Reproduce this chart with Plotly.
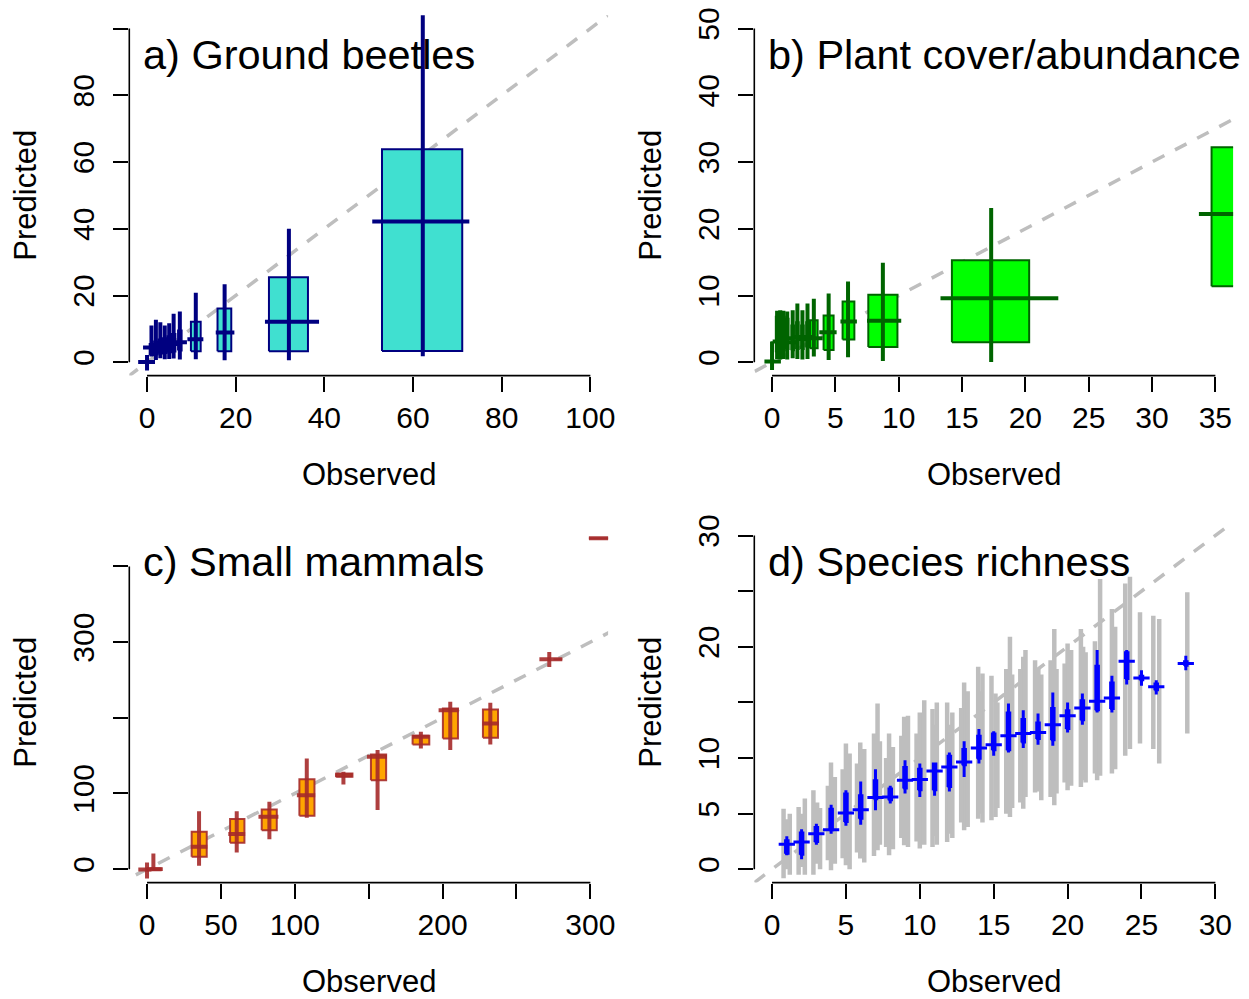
import plotly.graph_objects as go

FONT = "Liberation Sans, Arial, Helvetica, sans-serif"

# ---------------- Panel a) Ground beetles ----------------
a_obs_mid = [0, 1, 2, 3, 4, 5, 6, 7.4, 11.0, 17.5, 32.0, 62.2]
a_obs_q1 = [0, 0.6, 1.6, 2.6, 3.6, 4.6, 5.6, 7.0, 9.9, 15.9, 27.5, 53.0]
a_obs_q3 = [0, 1.4, 2.4, 3.4, 4.4, 5.4, 6.4, 7.8, 12.1, 19.0, 36.3, 71.1]
a_obs_min = [-2.0, -0.9, 0.5, 1.5, 2.5, 3.5, 4.5, 6.0, 9.1, 15.5, 26.6, 50.8]
a_obs_max = [1.8, 2.9, 3.5, 4.5, 5.5, 6.5, 7.5, 9.0, 12.7, 19.7, 38.8, 72.7]
a_pred_med = [0.1, 4.4, 4.2, 4.8, 5.0, 5.2, 5.5, 6.0, 6.9, 8.9, 12.1, 42.2]
a_pred_q1 = [0.0, 2.2, 2.4, 2.6, 2.8, 3.0, 3.2, 3.5, 3.3, 3.3, 3.3, 3.4]
a_pred_q3 = [0.5, 5.5, 6.2, 6.8, 7.2, 7.8, 8.5, 9.5, 12.1, 16.1, 25.5, 63.8]
a_pred_min = [-2.5, 1.7, 0.7, 1.2, 0.9, 1.0, 1.1, 0.8, 0.9, 0.6, 0.6, 1.8]
a_pred_max = [2.2, 11.0, 12.7, 12.0, 11.0, 11.7, 14.5, 15.2, 20.8, 23.4, 40.0, 112.0]
a_xticks = [0, 20, 40, 60, 80, 100]
a_xlabels = ["0", "20", "40", "60", "80", "100"]
a_yticks = [0, 20, 40, 60, 80, 100]
a_ylabels = ["0", "20", "40", "60", "80", ""]

# ---------------- Panel b) Plant cover/abundance ----------------
b_obs_mid = [0, 0.4, 0.65, 0.9, 1.2, 1.63, 2.0, 2.4, 2.8, 3.3, 4.47, 6.0, 8.75, 17.3, 37.5]
b_obs_q1 = [0, 0.3, 0.55, 0.8, 1.1, 1.53, 1.9, 2.3, 2.7, 3.0, 4.07, 5.57, 7.6, 14.2, 34.7]
b_obs_q3 = [0, 0.5, 0.75, 1.0, 1.3, 1.73, 2.1, 2.5, 2.9, 3.6, 4.86, 6.5, 9.9, 20.3, 40.5]
b_obs_min = [-0.6, 0.05, 0.3, 0.5, 0.8, 1.2, 1.6, 2.0, 2.4, 2.7, 3.73, 5.4, 7.5, 13.3, 33.7]
b_obs_max = [0.7, 1.24, 1.0, 1.3, 1.6, 2.0, 2.4, 2.8, 3.2, 4.0, 5.1, 6.7, 10.2, 22.6, 42.0]
b_pred_med = [0.1, 3.1, 3.6, 3.3, 3.6, 3.0, 3.8, 3.5, 3.8, 3.6, 4.5, 6.1, 6.2, 9.6, 22.2]
b_pred_q1 = [0.0, 1.5, 1.5, 1.8, 2.0, 1.8, 2.0, 2.0, 2.2, 2.1, 1.85, 3.4, 2.3, 3.0, 11.4]
b_pred_q3 = [3.1, 6.8, 7.0, 6.8, 6.5, 5.5, 6.0, 5.5, 6.0, 6.3, 7.0, 9.1, 10.1, 15.3, 32.2]
b_pred_min = [-1.15, 0.5, 0.4, 0.5, 0.4, 0.6, 0.5, 0.4, 0.5, 0.85, 0.35, 0.75, 0.2, 0.05, 5.0]
b_pred_max = [3.1, 7.7, 7.8, 7.7, 7.6, 7.8, 8.8, 7.8, 8.8, 9.5, 10.3, 12.1, 14.9, 23.1, 40.0]
b_xticks = [0, 5, 10, 15, 20, 25, 30, 35]
b_xlabels = ["0", "5", "10", "15", "20", "25", "30", "35"]
b_yticks = [0, 10, 20, 30, 40, 50]
b_ylabels = ["0", "10", "20", "30", "40", "50"]

# ---------------- Panel c) Small mammals ----------------
c_obs_mid = [0, 4.3, 35.2, 60.7, 82.8, 108.1, 132.9, 156.0, 185.3, 205.2, 232.3, 272.2, 318]
c_obs_q1 = [0, 3, 30.2, 56.2, 77.6, 103.1, 128, 151.5, 179.7, 200.2, 227.3, 275, 299]
c_obs_q3 = [0, 10, 40.4, 65.9, 87.8, 113.3, 139, 161.8, 191, 210.4, 237.5, 281, 335]
c_obs_min = [-5.9, 0, 29.8, 55, 75.4, 101.4, 127.3, 148.8, 179.7, 197.3, 227, 265.5, 299]
c_obs_max = [3, 9.9, 40.8, 66.4, 88.9, 113.8, 139, 162.3, 191, 210.8, 238, 281, 335]
c_pred_med = [-0.4, 0, 29.5, 46.3, 69.1, 97.8, 124.2, 148.4, 174.8, 210.1, 192.5, 277.5, 437.4]
c_pred_q1 = [-0.4, -1, 16.3, 34.8, 51.5, 70.4, 122, 117.6, 164.8, 172.7, 173.5, 277.5, 437.4]
c_pred_q3 = [-0.4, 1, 49.3, 66.1, 78.9, 118.9, 126.5, 151.6, 176.2, 212.4, 211, 277.5, 437.4]
c_pred_min = [-12.3, -1.3, 4.4, 22, 39.6, 67.8, 111.9, 78, 159.5, 157.3, 164.8, 267, 437.4]
c_pred_max = [8.9, 20.7, 76.6, 76.6, 89, 146.3, 128.6, 157.3, 181.5, 221.1, 219.8, 287, 437.4]
c_xticks = [0, 50, 100, 150, 200, 250, 300]
c_xlabels = ["0", "50", "100", "", "200", "", "300"]
c_yticks = [0, 100, 200, 300, 400]
c_ylabels = ["0", "100", "", "300", ""]

# ---------------- Panel d) Species richness ----------------
d_obs = [1, 2, 3, 4, 5, 6, 7, 8, 9, 10, 11, 12, 13, 14, 15, 16, 17, 18, 19, 20, 21, 22, 23, 24, 25, 26, 28]
d_pred_med = [2.25, 2.45, 3.2, 3.56, 5.05, 5.35, 6.44, 6.5, 8.0, 8.06, 8.83, 9.19, 9.64, 10.9, 11.2, 12.0, 12.2,
              12.3, 13.0, 13.8, 14.5, 15.1, 15.4, 18.7, 17.2, 16.4, 18.5]
d_pred_q1 = [1.4, 1.3, 2.45, 3.5, 4.25, 4.55, 6.3, 6.2, 7.25, 7.1, 7.1, 7.4, 9.34, 9.94, 10.7, 10.7, 11.4, 11.7,
             11.6, 12.6, 13.4, 14.3, 14.4, 17.1, 17.0, 16.1, 18.3]
d_pred_q3 = [2.6, 3.3, 3.8, 5.45, 6.8, 6.65, 8.0, 7.25, 9.2, 9.04, 9.5, 10.2, 10.8, 12.0, 12.2, 14.1, 13.5, 13.2,
             14.5, 14.3, 15.2, 18.3, 16.8, 19.5, 17.4, 16.7, 18.7]
d_pred_min = [1.26, 0.9, 2.2, 3.2, 3.9, 4.0, 5.3, 5.9, 6.8, 6.5, 6.6, 7.0, 8.3, 9.5, 10.2, 10.5, 10.9, 11.2, 11.1,
              12.3, 13.0, 14.1, 14.1, 16.6, 16.5, 15.7, 17.9]
d_pred_max = [2.96, 3.6, 4.1, 5.8, 7.1, 7.9, 9.0, 7.5, 9.8, 9.5, 9.5, 10.5, 11.5, 12.6, 12.4, 14.9, 14.3, 14.0, 15.9,
              15.0, 15.8, 19.7, 17.4, 19.7, 17.9, 17.0, 19.2]
# individual-site prediction ranges (grey)
d_site_x = [0.78, 1.2, 1.0, 1.8, 2.22, 2.0, 2.8, 3.25, 3.05, 3.99, 4.25, 3.78, 5.0, 5.25, 4.78, 5.97, 6.24, 5.75,
            7.14, 6.9, 7.3, 7.92, 8.18, 7.72, 8.94, 9.2, 8.75, 10.0, 9.78, 10.3, 10.86, 11.15, 11.0, 11.85, 12.2, 12.02,
            13.0, 13.24, 12.8, 13.95, 14.24, 14.08, 14.85, 15.12, 15.25, 16.1, 15.85, 16.25, 17.0, 17.15, 16.8,
            17.8, 18.22, 18.02, 19.1, 18.85, 19.25, 20.0, 20.24, 19.8, 20.9, 21.22, 21.05, 22.2, 22.0, 21.85,
            23.0, 23.22, 23.9, 24.22, 24.9, 25.8, 26.2, 28.1]
d_site_lo = [-0.8, -0.5, 0.0, -0.5, -0.5, 0.2, -0.5, 0.0, 0.5, -0.1, 0.5, 0.8, 0.36, 0.0, 1.0, 0.96, 0.6, 1.5,
             1.7, 1.2, 2.2, 1.26, 1.8, 2.0, 2.16, 2.0, 2.8, 1.86, 2.5, 2.2, 2.0, 2.2, 3.0, 2.45, 2.8, 3.2,
             3.5, 3.8, 4.2, 4.55, 4.2, 5.0, 4.4, 4.7, 5.5, 4.7, 5.0, 5.5, 5.45, 6.5, 6.0,
             6.9, 6.2, 7.0, 5.75, 6.5, 6.8, 7.1, 7.5, 7.8, 7.4, 7.8, 8.0, 8.4, 8.0, 8.6,
             8.6, 9.0, 10.2, 10.8, 11.3, 10.8, 9.5, 12.2]
d_site_hi = [5.45, 5.0, 4.5, 5.6, 6.35, 5.0, 7.1, 5.5, 6.0, 9.6, 8.3, 7.5, 11.3, 10.4, 9.0, 11.4, 10.8, 9.5,
             14.9, 12.2, 11.5, 12.2, 11.0, 10.0, 13.7, 13.8, 12.0, 14.1, 12.2, 15.2, 14.4, 15.0, 13.0, 15.0, 14.1, 13.0,
             16.8, 16.0, 14.5, 18.2, 17.6, 16.0, 17.4, 15.8, 15.0, 20.9, 18.0, 17.5, 19.1, 19.7, 18.0,
             18.8, 17.5, 18.0, 21.6, 18.8, 18.0, 20.3, 19.7, 18.5, 21.6, 19.5, 20.0, 26.1, 19.5, 20.5,
             23.4, 21.8, 25.7, 26.3, 23.1, 22.8, 22.5, 24.9]
d_xticks = [0, 5, 10, 15, 20, 25, 30]
d_xlabels = ["0", "5", "10", "15", "20", "25", "30"]
d_yticks = [0, 5, 10, 15, 20, 25, 30]
d_ylabels = ["0", "5", "10", "", "20", "", "30"]

titles = ["a) Ground beetles", "b) Plant cover/abundance", "c) Small mammals", "d) Species richness"]

# ---------------- layout geometry (pixels) ----------------
W, H = 1249, 999
col_px = [(129.3, 608.1), (754.3, 1233.1)]
row_px = [(15.2, 375.6), (522.2, 882.6)]


def xdom(c):
    return [col_px[c][0] / W, col_px[c][1] / W]


def ydom(r):
    return [1 - row_px[r][1] / H, 1 - row_px[r][0] / H]


fig = go.Figure()

panels = [
    dict(ax="", r=0, c=0, xr=[-4, 104], yr=[-4, 104], xt=a_xticks, xl=a_xlabels, yt=a_yticks, yl=a_ylabels),
    dict(ax="2", r=0, c=1, xr=[-1.4, 36.4], yr=[-2, 52], xt=b_xticks, xl=b_xlabels, yt=b_yticks, yl=b_ylabels),
    dict(ax="3", r=1, c=0, xr=[-12, 312], yr=[-17.8, 458.5], xt=c_xticks, xl=c_xlabels, yt=c_yticks, yl=c_ylabels),
    dict(ax="4", r=1, c=1, xr=[-1.2, 31.2], yr=[-1.2, 31.2], xt=d_xticks, xl=d_xlabels, yt=d_yticks, yl=d_ylabels),
]


def seg_xy(x0s, x1s, y0s, y1s):
    xs, ys = [], []
    for a, b, c, d in zip(x0s, x1s, y0s, y1s):
        xs += [a, b, None]
        ys += [c, d, None]
    return xs, ys


def add_diag(p):
    lo = min(p["xr"][0], p["yr"][0]) - 50
    hi = max(p["xr"][1], p["yr"][1]) + 50
    fig.add_trace(go.Scatter(x=[lo, hi], y=[lo, hi], mode="lines",
                             line=dict(color="#BEBEBE", width=3.5, dash="13px,12px"),
                             xaxis="x" + p["ax"], yaxis="y" + p["ax"], hoverinfo="skip", showlegend=False))


def add_groups(p, omid, oq1, oq3, omin, omax, pmed, pq1, pq3, pmin, pmax, fill, lc, lw=4, bw=2):
    xa, ya = "x" + p["ax"], "y" + p["ax"]
    bx, by = [], []
    for a, b, c, d in zip(oq1, oq3, pq1, pq3):
        bx += [a, b, b, a, a, None]
        by += [c, c, d, d, c, None]
    fig.add_trace(go.Scatter(x=bx, y=by, mode="lines", fill="toself", fillcolor=fill,
                             line=dict(color=lc, width=bw), xaxis=xa, yaxis=ya,
                             hoverinfo="skip", showlegend=False))
    vx, vy = seg_xy(omid, omid, pmin, pmax)
    fig.add_trace(go.Scatter(x=vx, y=vy, mode="lines", line=dict(color=lc, width=lw),
                             xaxis=xa, yaxis=ya, hoverinfo="skip", showlegend=False))
    hx, hy = seg_xy(omin, omax, pmed, pmed)
    fig.add_trace(go.Scatter(x=hx, y=hy, mode="lines", line=dict(color=lc, width=lw),
                             xaxis=xa, yaxis=ya, hoverinfo="skip", showlegend=False))


# panel a
add_diag(panels[0])
add_groups(panels[0], a_obs_mid, a_obs_q1, a_obs_q3, a_obs_min, a_obs_max,
           a_pred_med, a_pred_q1, a_pred_q3, a_pred_min, a_pred_max, "#40E0D0", "#000080")
# panel b
add_diag(panels[1])
add_groups(panels[1], b_obs_mid, b_obs_q1, b_obs_q3, b_obs_min, b_obs_max,
           b_pred_med, b_pred_q1, b_pred_q3, b_pred_min, b_pred_max, "#00FF00", "#006400")
# panel c
add_diag(panels[2])
add_groups(panels[2], c_obs_mid, c_obs_q1, c_obs_q3, c_obs_min, c_obs_max,
           c_pred_med, c_pred_q1, c_pred_q3, c_pred_min, c_pred_max, "#FFA500", "rgba(165,42,42,0.9)")
# panel d
add_diag(panels[3])
gx, gy = seg_xy(d_site_x, d_site_x, d_site_lo, d_site_hi)
fig.add_trace(go.Scatter(x=gx, y=gy, mode="lines", line=dict(color="#BEBEBE", width=4.5),
                         xaxis="x4", yaxis="y4", hoverinfo="skip", showlegend=False))
d_q1x = [v - 0.12 for v in d_obs]
d_q3x = [v + 0.12 for v in d_obs]
d_hlo = [v - 0.55 for v in d_obs]
d_hhi = [v + 0.55 for v in d_obs]
add_groups(panels[3], d_obs, d_q1x, d_q3x, d_hlo, d_hhi,
           d_pred_med, d_pred_q1, d_pred_q3, d_pred_min, d_pred_max, "#0000FF", "#0000FF", lw=3, bw=2)

layout = dict(width=W, height=H, autosize=False, margin=dict(l=0, r=0, t=0, b=0),
              paper_bgcolor="white", plot_bgcolor="white", showlegend=False,
              font=dict(family=FONT, color="black"))
shapes = []
annotations = []
for i, p in enumerate(panels):
    ax = p["ax"]
    xd, yd = xdom(p["c"]), ydom(p["r"])
    common = dict(ticks="outside", ticklen=15, tickwidth=1.6, tickcolor="black", showgrid=False,
                  zeroline=False, showline=False, tickfont=dict(family=FONT, size=30, color="black"),
                  fixedrange=True, automargin=False)
    layout["xaxis" + ax] = dict(domain=xd, range=p["xr"], anchor="y" + ax, tickmode="array",
                                tickvals=p["xt"], ticktext=p["xl"], **common)
    layout["yaxis" + ax] = dict(domain=yd, range=p["yr"], anchor="x" + ax, tickmode="array",
                                tickvals=p["yt"], ticktext=p["yl"], tickangle=-90,
                                ticklabelstandoff=7, **common)
    # R-style axis lines from first to last tick
    shapes.append(dict(type="line", xref="x" + ax, yref="paper", x0=p["xt"][0], x1=p["xt"][-1],
                       y0=yd[0], y1=yd[0], line=dict(color="black", width=1.6)))
    shapes.append(dict(type="line", xref="paper", yref="y" + ax, x0=xd[0], x1=xd[0],
                       y0=p["yt"][0], y1=p["yt"][-1], line=dict(color="black", width=1.6)))
    top = row_px[p["r"]][0]
    bot = row_px[p["r"]][1]
    left = col_px[p["c"]][0]
    right = col_px[p["c"]][1]
    annotations.append(dict(text=titles[i], xref="paper", yref="paper", x=(left + 12) / W,
                            y=1 - (top + 39.5) / H, xanchor="left", yanchor="middle", showarrow=False,
                            font=dict(family=FONT, size=41.5, color="black")))
    annotations.append(dict(text="Observed", xref="paper", yref="paper", x=(left + right) / 2 / W,
                            y=1 - (bot + 98.5) / H, xanchor="center", yanchor="middle", showarrow=False,
                            font=dict(family=FONT, size=31, color="black")))
    annotations.append(dict(text="Predicted", xref="paper", yref="paper", x=(left - 104) / W,
                            y=1 - (top + bot) / 2 / H, xanchor="center", yanchor="middle", showarrow=False,
                            textangle=-90, font=dict(family=FONT, size=31, color="black")))
layout["shapes"] = shapes
layout["annotations"] = annotations
fig.update_layout(**layout)
fig.write_html("out.html", config={"responsive": False, "displayModeBar": False},
               post_script="document.body.style.margin='0';document.body.style.padding='0';"
                           "document.body.style.overflow='hidden';")
